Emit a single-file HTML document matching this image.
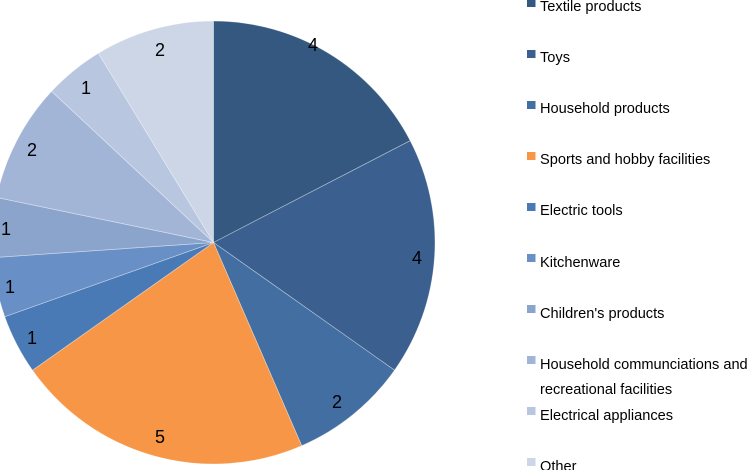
<!DOCTYPE html>
<html>
<head>
<meta charset="utf-8">
<style>
html,body{margin:0;padding:0;background:#fff;}
svg{display:block;}
.lg{font-family:"Liberation Sans",Arial,sans-serif;font-size:14.6px;fill:#000;}
.pl{font-family:"Liberation Sans",Arial,sans-serif;font-size:18px;fill:#000;text-anchor:middle;}
</style>
</head>
<body>
<svg width="750" height="470" viewBox="0 0 750 470" xmlns="http://www.w3.org/2000/svg">
<g stroke="#ffffff" stroke-opacity="0.45" stroke-width="0.7">
<path d="M213.5,242.5 L213.5,21 A221.5,221.5 0 0 1 410.2,140.7 Z" fill="#34587f"/>
<path d="M213.5,242.5 L410.2,140.7 A221.5,221.5 0 0 1 394.5,370.2 Z" fill="#3b6090"/>
<path d="M213.5,242.5 L394.5,370.2 A221.5,221.5 0 0 1 301.7,445.7 Z" fill="#426ea1"/>
<path d="M213.5,242.5 L301.7,445.7 A221.5,221.5 0 0 1 32.5,370.2 Z" fill="#f79646"/>
<path d="M213.5,242.5 L32.5,370.2 A221.5,221.5 0 0 1 4.8,316.7 Z" fill="#4a7ab5"/>
<path d="M213.5,242.5 L4.8,316.7 A221.5,221.5 0 0 1 -7.5,257.6 Z" fill="#6990c6"/>
<path d="M213.5,242.5 L-7.5,257.6 A221.5,221.5 0 0 1 -3.4,197.4 Z" fill="#8ba4cc"/>
<path d="M213.5,242.5 L-3.4,197.4 A221.5,221.5 0 0 1 51.6,91.3 Z" fill="#a3b5d6"/>
<path d="M213.5,242.5 L51.6,91.3 A221.5,221.5 0 0 1 98.4,53.2 Z" fill="#b9c6df"/>
<path d="M213.5,242.5 L98.4,53.2 A221.5,221.5 0 0 1 213.5,21 Z" fill="#ccd6e7"/>
</g>
<text class="pl" x="313" y="51">4</text>
<text class="pl" x="417" y="264">4</text>
<text class="pl" x="337" y="408">2</text>
<text class="pl" x="160" y="443">5</text>
<text class="pl" x="32" y="344">1</text>
<text class="pl" x="10" y="293">1</text>
<text class="pl" x="6" y="235">1</text>
<text class="pl" x="32" y="156">2</text>
<text class="pl" x="86" y="94">1</text>
<text class="pl" x="160" y="56">2</text>

<rect x="527" y="-1" width="8.5" height="8" fill="#34587f"/>
<text class="lg" x="540" y="11">Textile products</text>
<rect x="527" y="50" width="8.5" height="8" fill="#3b6090"/>
<text class="lg" x="540" y="62">Toys</text>
<rect x="527" y="101" width="8.5" height="8" fill="#426ea1"/>
<text class="lg" x="540" y="113">Household products</text>
<rect x="527" y="152" width="8.5" height="8" fill="#f79646"/>
<text class="lg" x="540" y="164">Sports and hobby facilities</text>
<rect x="527" y="203" width="8.5" height="8" fill="#4a7ab5"/>
<text class="lg" x="540" y="215">Electric tools</text>
<rect x="527" y="254" width="8.5" height="8" fill="#6990c6"/>
<text class="lg" x="540" y="267">Kitchenware</text>
<rect x="527" y="305" width="8.5" height="8" fill="#8ba4cc"/>
<text class="lg" x="540" y="318">Children's products</text>
<rect x="527" y="356" width="8.5" height="8" fill="#a3b5d6"/>
<text class="lg" x="540" y="369">Household communciations and</text>
<text class="lg" x="540" y="394">recreational facilities</text>
<rect x="527" y="407" width="8.5" height="8" fill="#b9c6df"/>
<text class="lg" x="540" y="420">Electrical appliances</text>
<rect x="527" y="458" width="8.5" height="8" fill="#ccd6e7"/>
<text class="lg" x="540" y="471">Other</text>
</svg>
</body>
</html>
